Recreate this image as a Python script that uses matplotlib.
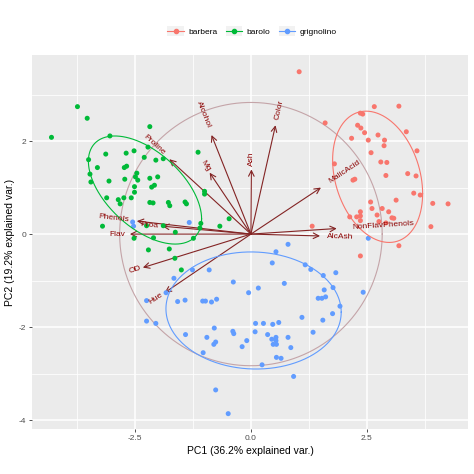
import numpy as np
import matplotlib
matplotlib.use("Agg")
import matplotlib.pyplot as plt
from matplotlib.legend_handler import HandlerLine2D
from matplotlib.lines import Line2D
from matplotlib.patches import Rectangle

plt.rcParams['font.family'] = ['Liberation Sans', 'DejaVu Sans']
plt.rcParams['axes.unicode_minus'] = False

# ---------------- data (PC scores) ----------------
groups = ["barbera", "barolo", "grignolino"]
colors = {"barbera": "#F8766D", "barolo": "#00BA38", "grignolino": "#619CFF"}

barbera_pc1 = [1.04, 2.66, 3.19, 2.36, 2.41, 1.60, 2.30, 2.37, 2.45, 2.74, 2.17, 2.53,
               2.88, 2.87, 3.35, 3.58, 2.59, 1.80, 2.80, 2.93, 2.20, 2.24, 2.91, 3.38,
               3.56, 3.51, 3.65, 3.13, 3.92, 4.25, 2.58, 2.61, 2.83, 2.97, 2.36, 2.72,
               3.04, 3.08, 2.13, 2.28, 2.36, 2.36, 2.76, 2.91, 3.88, 1.32, 3.19, 2.36]
barbera_pc2 = [3.49, 2.74, 2.75, 2.60, 2.58, 2.39, 2.34, 2.28, 2.18, 2.13, 2.06, 2.02,
               2.02, 1.90, 2.20, 1.79, 1.75, 1.51, 1.55, 1.54, 1.16, 1.18, 1.26, 1.30,
               1.25, 0.88, 0.84, 0.73, 0.66, 0.65, 0.69, 0.55, 0.55, 0.48, 0.48, 0.41,
               0.35, 0.34, 0.37, 0.37, 0.39, 0.29, 0.27, 0.24, 0.16, 0.17, -0.25, -0.47]

barolo_pc1 = [-3.74, -3.53, -4.30, -2.18, -3.04, -3.13, -2.69, -2.52, -2.22, -3.50, -2.30, -2.05,
              -1.89, -1.14, -3.31, -2.73, -2.68, -3.47, -2.46, -3.06, -2.72, -2.49, -2.44, -2.18,
              -2.01, -2.51, -2.14, -2.08, -2.51, -1.00, -1.00, -3.11, -2.86, -2.74, -2.58, -2.82,
              -2.18, -2.11, -1.78, -1.75, -1.42, -1.39, -0.47, -1.08, -0.67, -3.20, -1.89, -1.63,
              -1.24, -2.52, -2.10, -2.21, -1.76, -1.64, -1.50, -1.10, -2.25, -3.45]
barolo_pc2 = [2.74, 2.49, 2.08, 2.31, 2.11, 1.72, 1.74, 1.79, 1.87, 1.60, 1.65, 1.59,
              1.62, 1.76, 1.43, 1.43, 1.46, 1.29, 1.31, 1.14, 1.18, 1.23, 1.16, 1.20,
              1.23, 1.02, 1.01, 1.05, 0.90, 0.92, 0.86, 0.78, 0.74, 0.78, 0.78, 0.65,
              0.68, 0.67, 0.68, 0.61, 0.69, 0.65, 0.33, 0.23, 0.17, 0.17, 0.18, 0.04,
              -0.09, -0.09, -0.08, -0.34, -0.32, -0.52, -0.77, 0.13, 0.18, 1.12]

grignolino_pc1 = [-2.55, -1.33, -1.26, -0.90, -1.66, -0.38, -0.05, -2.25, -1.83, -1.58, -1.42, -1.04,
                  -0.98, -0.85, -0.74, -2.25, -2.05, -1.41, -0.79, -0.95, -0.76, -0.80, -0.39, -0.37,
                  -0.09, -0.19, -1.03, -0.76, -0.49, 0.80, 0.54, 0.46, 1.17, 1.29, 1.56, 1.83,
                  0.72, 0.16, 1.58, 1.77, 1.45, 1.53, 1.61, 1.92, 1.10, 1.76, 1.55, 0.10,
                  0.27, 0.47, 0.60, 0.09, 0.36, 0.45, 0.54, 0.54, 0.48, 0.55, 0.80, 0.86,
                  1.34, 0.55, 0.65, 0.24, 0.92, 2.42, 2.53, -2.53]
grignolino_pc2 = [0.26, 0.25, -0.77, -0.77, -0.95, -1.03, -1.26, -1.43, -1.26, -1.45, -1.42, -1.44,
                  -1.44, -1.46, -1.40, -1.87, -1.92, -2.16, -2.02, -2.22, -2.32, -2.37, -2.09, -2.14,
                  -2.29, -2.42, -2.55, -3.35, -3.86, -0.22, -0.38, -0.62, -0.66, -0.76, -0.89, -0.83,
                  -1.06, -1.16, -1.20, -1.15, -1.38, -1.38, -1.35, -1.55, -1.79, -1.71, -1.85, -1.92,
                  -1.92, -1.94, -1.90, -2.10, -2.16, -2.26, -2.22, -2.29, -2.37, -2.37, -2.22, -2.44,
                  -2.11, -2.65, -2.67, -2.81, -3.06, -1.25, -0.09, 0.17]

scores = {
    "barbera": (barbera_pc1, barbera_pc2),
    "barolo": (barolo_pc1, barolo_pc2),
    "grignolino": (grignolino_pc1, grignolino_pc2),
}

# variable loadings (arrow tips)
var_names = ["Alcohol", "MalicAcid", "Ash", "AlcAsh", "Mg", "Phenols", "Flav",
             "NonFlavPhenols", "Proa", "Color", "Hue", "OD", "Proline"]
var_pc1 = [-0.85, 1.51, 0.01, 1.49, -0.89, -2.46, -2.61, 1.85, -1.91, 0.53, -1.86, -2.33, -1.76]
var_pc2 = [2.13, 1.00, 1.39, -0.04, 1.32, 0.28, 0.00, 0.12, 0.17, 2.34, -1.26, -0.72, 1.61]

circle_radius = 2.83
ellipse_prob = 0.68

x_ticks = [-2.5, 0.0, 2.5]
y_ticks = [-4, -2, 0, 2]
x_label = "PC1 (36.2% explained var.)"
y_label = "PC2 (19.2% explained var.)"

# ---------------- figure ----------------
W = H = 474
fig = plt.figure(figsize=(4.74, 4.74), dpi=100)
ax = fig.add_axes([32 / W, 1 - 429 / H, (468 - 32) / W, (429 - 55) / H])
ax.set_facecolor("#EBEBEB")
ax.set_xlim(-4.72, 4.68)
ax.set_ylim(-4.19, 3.85)
for s in ax.spines.values():
    s.set_visible(False)

# grid
ax.set_xticks(x_ticks)
ax.set_yticks(y_ticks)
ax.set_xticklabels([f"{v:.1f}" for v in x_ticks])
ax.set_yticklabels([f"{v:d}" for v in y_ticks])
xminor = [(a + b) / 2 for a, b in zip(x_ticks[:-1], x_ticks[1:])]
xminor = [x_ticks[0] - 1.25] + xminor + [x_ticks[-1] + 1.25]
yminor = [(a + b) / 2 for a, b in zip(y_ticks[:-1], y_ticks[1:])] + [y_ticks[-1] + 1]
ax.set_xticks(xminor, minor=True)
ax.set_yticks(yminor, minor=True)
ax.grid(which="major", color="white", linewidth=1.1, zorder=0)
ax.grid(which="minor", color="white", linewidth=0.55, zorder=0)
ax.set_axisbelow(True)
ax.tick_params(which="minor", length=0)
ax.tick_params(which="major", length=2.0, width=0.6, color="#333333",
               labelsize=6, labelcolor="#4D4D4D", pad=2)
ax.set_xlabel(x_label, fontsize=7.5, labelpad=3)
ax.set_ylabel(y_label, fontsize=7.5, labelpad=3)

# correlation circle
theta = np.linspace(0, 2 * np.pi, 300)
ax.plot(circle_radius * np.cos(theta), circle_radius * np.sin(theta),
        color="#C4A4A8", linewidth=0.8, zorder=1)

# arrows
arrow_col = "#832424"
for name, vx, vy in zip(var_names, var_pc1, var_pc2):
    ax.annotate("", xy=(vx, vy), xytext=(0, 0),
                arrowprops=dict(arrowstyle="->,head_length=0.4,head_width=0.2",
                                color=arrow_col, lw=0.8, shrinkA=0, shrinkB=0),
                zorder=2)

# points
for g in groups:
    px, py = scores[g]
    ax.scatter(px, py, s=13, color=colors[g], edgecolors="none", zorder=3)

# normal ellipses (68%)
ed = np.sqrt(-2 * np.log(1 - ellipse_prob))
circ = np.column_stack([np.cos(theta), np.sin(theta)])
for g in groups:
    px, py = np.asarray(scores[g][0]), np.asarray(scores[g][1])
    sigma = np.cov(px, py)
    L = np.linalg.cholesky(sigma)
    ell = circ @ L.T * ed + np.array([px.mean(), py.mean()])
    ax.plot(ell[:, 0], ell[:, 1], color=colors[g], linewidth=0.8, zorder=4)

# variable labels
lab_fs = 6.0
for name, vx, vy in zip(var_names, var_pc1, var_pc2):
    ang = np.degrees(np.arctan(vy / vx)) if vx != 0 else 90.0
    d = np.hypot(vx, vy)
    ux, uy = vx / d, vy / d
    off = 0.25 * len(name) * 0.52 * lab_fs
    ax.annotate(name, xy=(vx, vy), xytext=(ux * off, uy * off), textcoords="offset points",
                rotation=ang, rotation_mode="anchor",
                ha="left" if vx > 0 else "right", va="center",
                fontsize=lab_fs, color="#8B0000", zorder=5)


class KeyHandler(HandlerLine2D):
    def create_artists(self, legend, orig_handle, xdescent, ydescent, width, height,
                       fontsize, trans):
        arts = super().create_artists(legend, orig_handle, xdescent, ydescent,
                                      width, height, fontsize, trans)
        bg = Rectangle((-xdescent, -ydescent - 0.35 * height), width, height * 1.7,
                       facecolor="#F2F2F2", edgecolor="none", transform=trans)
        return [bg] + arts


handles = [Line2D([], [], color=colors[g], marker="o", markersize=3, linewidth=0.8)
           for g in groups]
leg = fig.legend(handles, groups, loc="center", bbox_to_anchor=(252 / W, 1 - 32 / H),
                 ncol=3, frameon=False, fontsize=6, handlelength=2.0, handletextpad=0.5,
                 columnspacing=1.0, handler_map={Line2D: KeyHandler()})

fig.savefig("out.png", dpi=100)
